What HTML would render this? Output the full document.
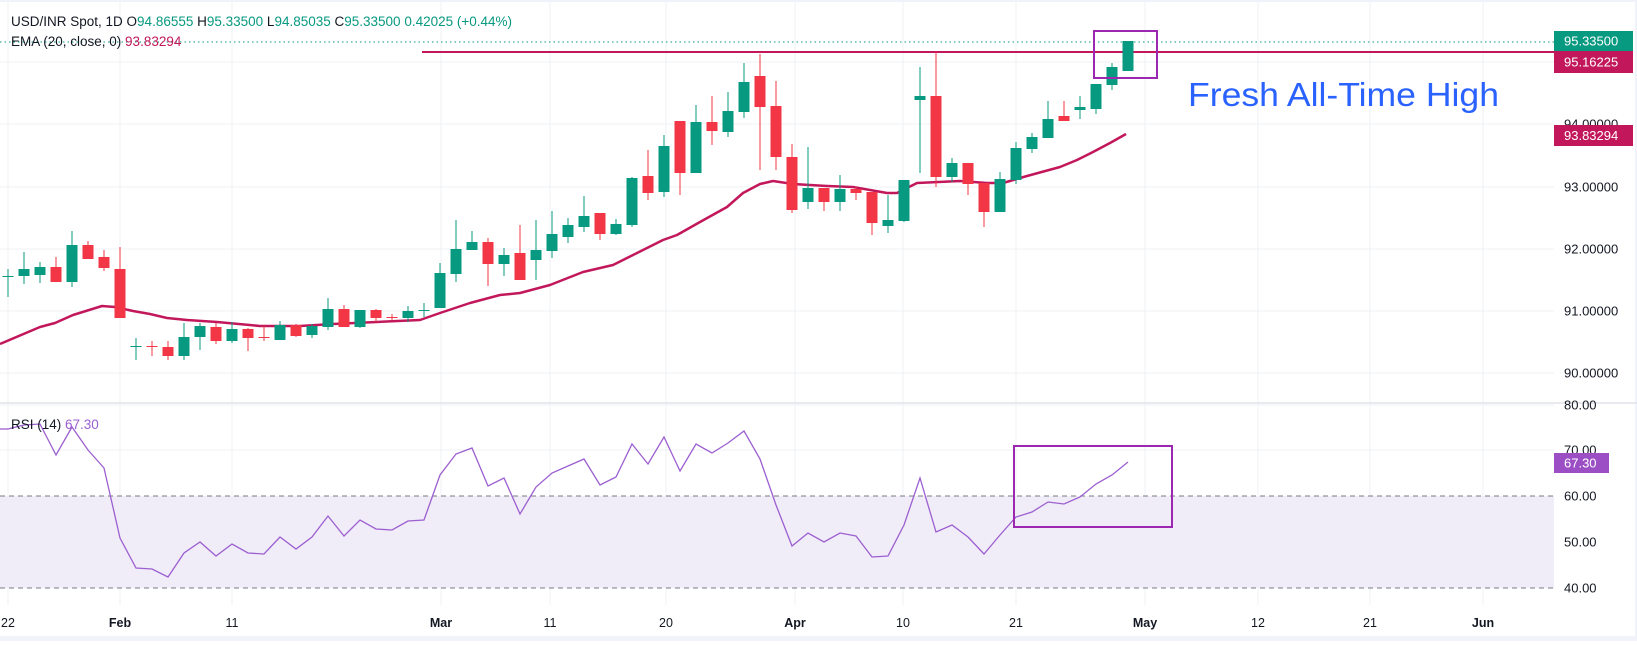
<!DOCTYPE html>
<html><head><meta charset="utf-8"><style>
html,body{margin:0;padding:0;background:#fff;}
body{width:1637px;height:641px;overflow:hidden;font-family:"Liberation Sans",sans-serif;}
svg text{font-family:"Liberation Sans",sans-serif;}
</style></head><body>
<svg id="c" width="1637" height="641" xmlns="http://www.w3.org/2000/svg"></svg>
<script>
const C=[
[276,276,269,297,'g'],[269,276,252,284,'g'],[267,275,262,283,'g'],[267,282,257,282,'r'],[245,282,231,287,'g'],
[245,259,241,259,'r'],[257,268,250,271,'r'],[269,318,247,318,'r'],[346,346,338,360,'g'],[346,346,341,356,'r'],
[347,356,341,360,'r'],[337,356,323,360,'g'],[326,337,323,350,'g'],[327,341,323,344,'r'],[329,341,322,343,'g'],
[329,338,328,351,'r'],[337,337,326,341,'r'],[325,340,321,340,'g'],[325,336,324,337,'r'],[326,335,324,338,'g'],
[309,327,298,330,'g'],[309,327,305,327,'r'],[310,327,310,328,'g'],[310,318,309,322,'r'],[317,317,314,320,'r'],
[311,318,306,322,'g'],[310,310,303,317,'g'],[273,308,263,308,'g'],[249,274,220,282,'g'],[242,250,231,250,'g'],
[242,264,238,286,'r'],[255,264,248,276,'g'],[253,280,225,280,'r'],[250,260,220,280,'g'],[234,251,211,258,'g'],
[225,237,218,243,'g'],[216,227,196,232,'g'],[213,234,213,240,'r'],[224,234,219,235,'g'],[178,225,177,227,'g'],
[176,193,150,200,'r'],[146,192,135,197,'g'],[121,173,121,195,'r'],[122,173,105,173,'g'],[122,131,96,145,'r'],
[111,132,92,137,'g'],[82,112,63,118,'g'],[76,107,54,170,'r'],[106,157,81,170,'r'],[157,210,144,213,'r'],
[188,202,147,209,'g'],[188,202,188,211,'r'],[189,202,175,211,'g'],[189,193,187,200,'r'],[192,223,192,235,'r'],
[220,226,195,233,'g'],[180,221,180,222,'g'],[96,100,67,173,'g'],[96,177,52,187,'r'],[163,177,158,182,'g'],
[163,184,163,195,'r'],[183,212,183,227,'r'],[179,212,172,212,'g'],[148,180,142,184,'g'],[137,149,133,153,'g'],
[119,138,101,138,'g'],[116,121,101,121,'r'],[107,110,96,119,'g'],[84,109,84,114,'g'],[67,85,63,90,'g'],[41,71,41,71,'g']];
const R=[429,425,424,455,427,450,468,538,568,569,577,553,542,556,544,553,554,537,549,537,516,536,520,529,530,521,520,475,454,448,486,478,514,487,473,466,
459,485,477,444,464,437,471,444,453,443,431,459,505,546,533,542,533,536,557,556,525,478,532,525,537,554,535,517,512,502,504,497,484,475,462];
const E=[[0,344],[40,327],[55,323],[73,315],[102,306],[115,307],[133,311],[150,314],[167,318],[187,320],[217,322],[260,326],[300,326],[333,324],[420,320],[440,313],[470,303],[500,295],[520,293],[550,285],[583,272],[613,265],[633,255],[663,240],[677,235],[700,222],[727,207],[743,193],[760,184],[773,181],[793,184],[827,186],[853,187],[887,193],[897,193],[917,183],[960,181],[987,183],[1003,183],[1027,176],[1060,167],[1077,160],[1093,152],[1110,143],[1126,134]];
let s='';
const G='#089981',RD='#f23645',GR='#eef0f3';
// bottom strip
s+=`<rect x="0" y="636" width="1637" height="5" fill="#f0f3fa"/><rect x="1635" y="0" width="2" height="641" fill="#f0f3fa"/><rect x="0" y="0" width="1637" height="2" fill="#f0f3fa"/>`;
// RSI band
s+=`<rect x="0" y="496" width="1554" height="92" fill="#f0ecf8"/>`;
// vertical grid
[8,120,232,441,550,666,795,903,1016,1145,1258,1370,1483].forEach(x=>{s+=`<line x1="${x}" y1="2" x2="${x}" y2="605" stroke="${GR}" stroke-width="1"/>`;});
// horizontal grid price
[62,124,187,249,311,373].forEach(y=>{s+=`<line x1="0" y1="${y}" x2="1554" y2="${y}" stroke="${GR}"/>`;});
[405,450,542].forEach(y=>{s+=`<line x1="0" y1="${y}" x2="1554" y2="${y}" stroke="${GR}"/>`;});
s+=`<line x1="0" y1="403" x2="1637" y2="403" stroke="#e0e3eb" stroke-width="1.5"/>`;
s+=`<line x1="0" y1="496" x2="1554" y2="496" stroke="#787b86" stroke-dasharray="5,4"/>`;
s+=`<line x1="0" y1="588" x2="1554" y2="588" stroke="#787b86" stroke-dasharray="5,4"/>`;
// dotted last price
s+=`<line x1="0" y1="42" x2="1554" y2="42" stroke="${G}" stroke-dasharray="1.5,3"/>`;
// resistance
s+=`<line x1="422" y1="52" x2="1554" y2="52" stroke="#c2185b" stroke-width="2"/>`;
// EMA
s+=`<polyline fill="none" stroke="#c2185b" stroke-width="2.5" stroke-linejoin="round" points="${E.map(p=>p.join(',')).join(' ')}"/>`;
// candles
C.forEach((c,i)=>{const x=8+16*i,col=c[4]=='g'?G:RD;
 s+=`<line x1="${x}" y1="${c[2]}" x2="${x}" y2="${c[3]}" stroke="${col}" stroke-width="1"/>`;
 const h=Math.max(1,c[1]-c[0]);s+=`<rect x="${x-5.5}" y="${c[0]}" width="11" height="${h}" fill="${col}"/>`;});
// RSI line
s+=`<polyline fill="none" stroke="#9c5fd0" stroke-width="1.3" points="${R.map((y,i)=>(8+16*i)+','+y).join(' ')}"/>`;
s+=`<line x1="0" y1="429" x2="8" y2="429" stroke="#9c5fd0" stroke-width="1.3"/>`;
// boxes
s+=`<rect x="1094" y="31" width="63" height="47" fill="none" stroke="#9c27b0" stroke-width="2"/>`;
s+=`<rect x="1014" y="446" width="158" height="81" fill="none" stroke="#9c27b0" stroke-width="2"/>`;
// annotation
s+=`<text x="1188" y="106" font-size="33" fill="#2962ff" textLength="311" lengthAdjust="spacingAndGlyphs">Fresh All-Time High</text>`;
// right axis labels
const ax=(y,t)=>`<text x="1564" y="${y+4.5}" font-size="13" fill="#131722">${t}</text>`;
[[124,'94.00000'],[187,'93.00000'],[249,'92.00000'],[311,'91.00000'],[373,'90.00000'],[405,'80.00'],[450,'70.00'],[496,'60.00'],[542,'50.00'],[588,'40.00']].forEach(a=>s+=ax(a[0],a[1]));
const tag=(y1,h,w,col,t)=>`<rect x="1554" y="${y1}" width="${w}" height="${h}" fill="${col}"/><text x="1564" y="${y1+h/2+4.5}" font-size="13" fill="#fff">${t}</text>`;
s+=tag(31,20,79,G,'95.33500');s+=tag(51,22,79,'#c2185b','95.16225');s+=tag(125,21,79,'#c2185b','93.83294');s+=tag(453,20,55,'#9c4fc4','67.30');
// bottom labels
[[8,'22',0],[120,'Feb',1],[232,'11',0],[441,'Mar',1],[550,'11',0],[666,'20',0],[795,'Apr',1],[903,'10',0],[1016,'21',0],[1145,'May',1],[1258,'12',0],[1370,'21',0],[1483,'Jun',1]].forEach(l=>{
 s+=`<text x="${l[0]}" y="627" font-size="12.5" fill="#131722" text-anchor="middle" ${l[2]?'font-weight="bold"':''}>${l[1]}</text>`;});
// legends
s+=`<text x="11" y="26" font-size="13.5" fill="#131722">USD/INR Spot, 1D  O<tspan fill="${G}">94.86555</tspan>  H<tspan fill="${G}">95.33500</tspan>  L<tspan fill="${G}">94.85035</tspan>  C<tspan fill="${G}">95.33500</tspan>  <tspan fill="${G}">0.42025 (+0.44%)</tspan></text>`;
s+=`<text x="11" y="46" font-size="13.5" fill="#131722">EMA (20, close, 0)  <tspan fill="#c2185b">93.83294</tspan></text>`;
s+=`<text x="11" y="429" font-size="13.5" fill="#131722">RSI (14)  <tspan fill="#9c5fd0">67.30</tspan></text>`;
document.getElementById('c').innerHTML=s;
document.querySelectorAll('text').forEach(t=>t.setAttribute('xml:space','preserve'));
</script>
</body></html>
